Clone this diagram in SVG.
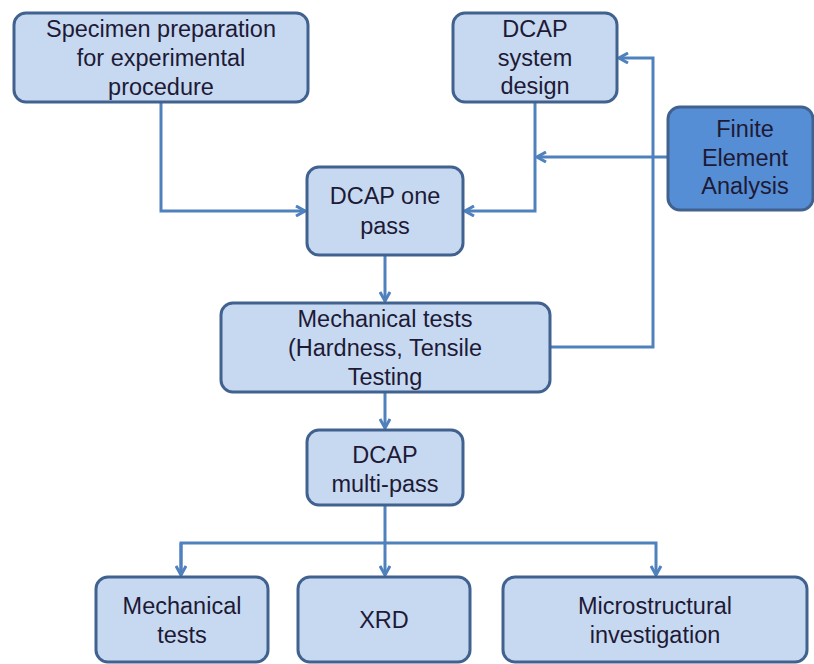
<svg xmlns="http://www.w3.org/2000/svg" width="814" height="664" viewBox="0 0 814 664">
<defs>
<style>
.box{fill:#C6D9F1;stroke:#41628F;stroke-width:3}
.dark{fill:#558ED5;stroke:#41628F;stroke-width:3}
.t{font-family:"Liberation Sans",Arial,sans-serif;font-size:23.5px;fill:#1E1A36;text-anchor:middle}
.c{fill:none;stroke:#4F81BD;stroke-width:3}
</style>
<marker id="ah" viewBox="0 0 12 12" refX="11" refY="6" markerWidth="12" markerHeight="12" markerUnits="userSpaceOnUse" orient="auto">
<path d="M2,1 L11,6 L2,11" fill="none" stroke="#4F81BD" stroke-width="3"/>
</marker>
</defs>
<rect width="814" height="664" fill="#FFFFFF"/>
<g id="connectors">
<path class="c" d="M161,103 V211 H305" marker-end="url(#ah)"/>
<path class="c" d="M535,102 V211 H465" marker-end="url(#ah)"/>
<path class="c" d="M668,157 H537" marker-end="url(#ah)"/>
<path class="c" d="M550,347 H653 V58 H619" marker-end="url(#ah)"/>
<path class="c" d="M385,255 V301" marker-end="url(#ah)"/>
<path class="c" d="M385,392 V428" marker-end="url(#ah)"/>
<path class="c" d="M385,505 V575" marker-end="url(#ah)"/>
<path class="c" d="M181,575 V543 H656 V575" marker-end="url(#ah)"/>
<path class="c" d="M181,543 V575" marker-end="url(#ah)"/>
</g>
<g id="specimen">
<rect class="box" x="14" y="13" width="294" height="89" rx="12"/>
<text class="t" x="161" y="37">Specimen preparation</text>
<text class="t" x="161" y="66">for experimental</text>
<text class="t" x="161" y="95">procedure</text>
</g>
<g id="system-design">
<rect class="box" x="453" y="13" width="164" height="89" rx="12"/>
<text class="t" x="535" y="37">DCAP</text>
<text class="t" x="535" y="66">system</text>
<text class="t" x="535" y="94">design</text>
</g>
<g id="fea">
<rect class="dark" x="668" y="107" width="145" height="103" rx="12"/>
<text class="t" x="745" y="137">Finite</text>
<text class="t" x="745" y="166">Element</text>
<text class="t" x="745" y="194">Analysis</text>
</g>
<g id="one-pass">
<rect class="box" x="307" y="167" width="156" height="88" rx="12"/>
<text class="t" x="385" y="204">DCAP one</text>
<text class="t" x="385" y="234">pass</text>
</g>
<g id="mech-tests-main">
<rect class="box" x="221" y="303" width="329" height="89" rx="12"/>
<text class="t" x="385" y="327">Mechanical tests</text>
<text class="t" x="385" y="356">(Hardness, Tensile</text>
<text class="t" x="385" y="385">Testing</text>
</g>
<g id="multi-pass">
<rect class="box" x="307" y="430" width="156" height="75" rx="12"/>
<text class="t" x="385" y="463">DCAP</text>
<text class="t" x="385" y="492">multi-pass</text>
</g>
<g id="mech-tests">
<rect class="box" x="96" y="577" width="172" height="85" rx="12"/>
<text class="t" x="182" y="614">Mechanical</text>
<text class="t" x="182" y="643">tests</text>
</g>
<g id="xrd">
<rect class="box" x="298" y="577" width="172" height="85" rx="12"/>
<text class="t" x="384" y="628">XRD</text>
</g>
<g id="micro">
<rect class="box" x="503" y="577" width="304" height="85" rx="12"/>
<text class="t" x="655" y="614">Microstructural</text>
<text class="t" x="655" y="643">investigation</text>
</g>
</svg>
